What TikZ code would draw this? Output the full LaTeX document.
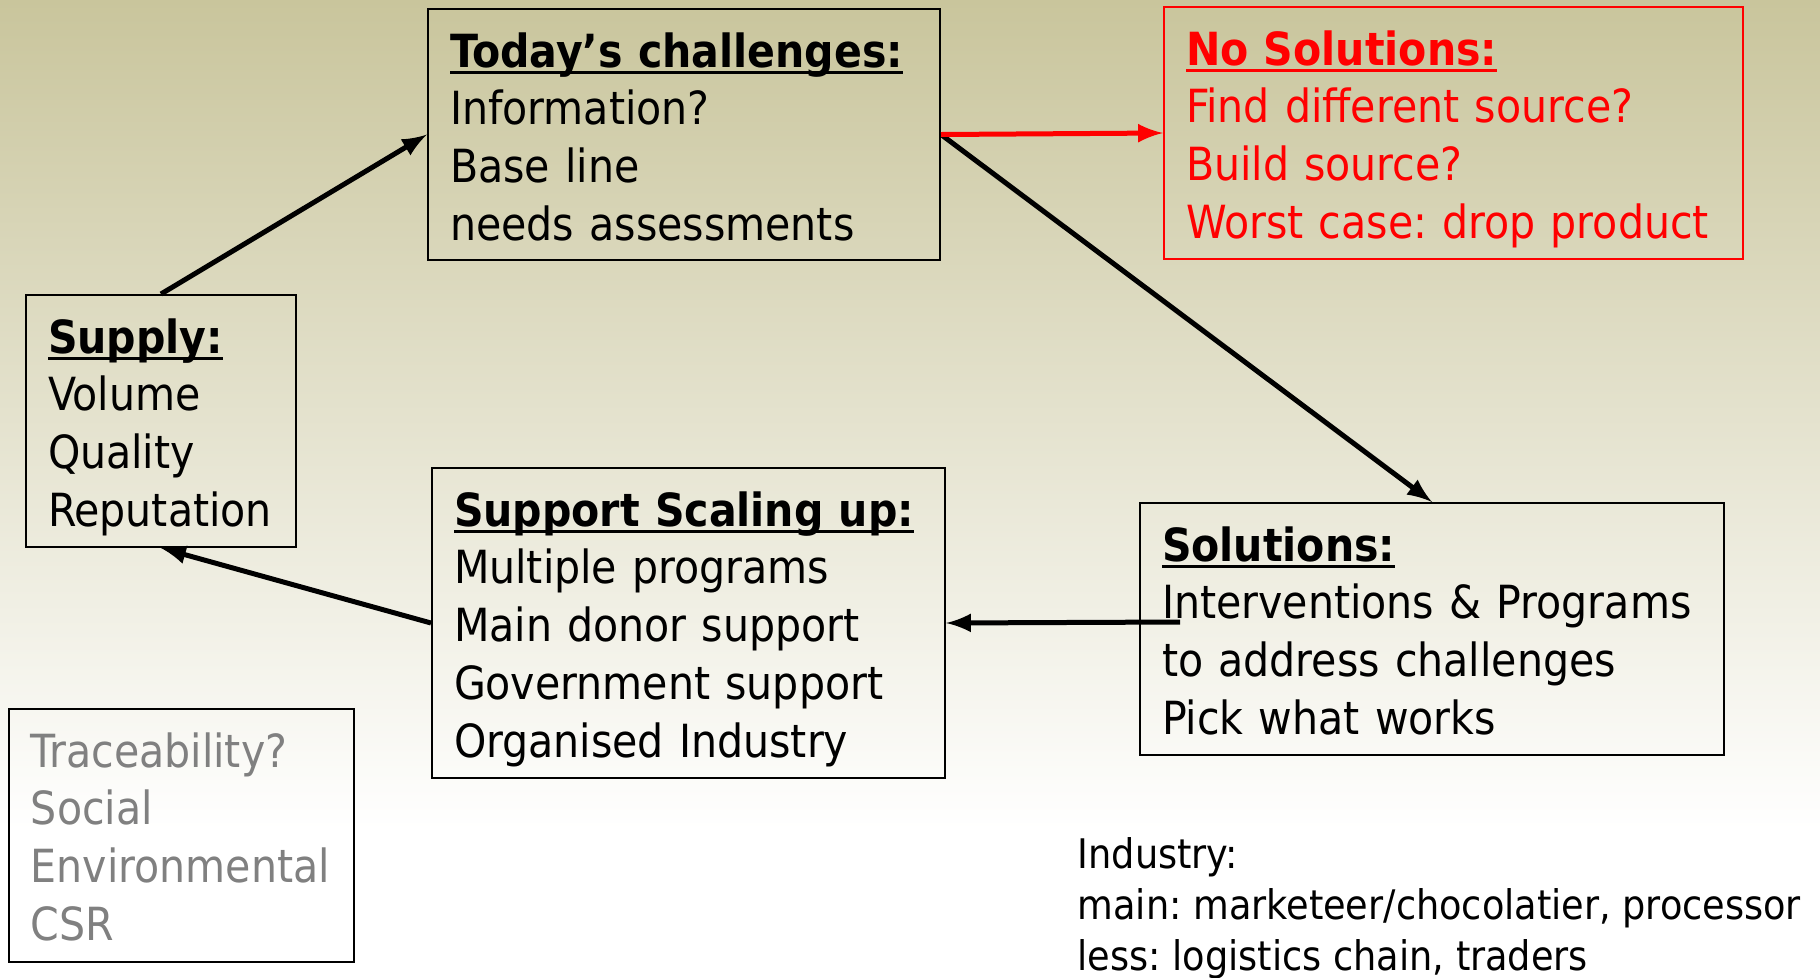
\documentclass[tikz,border=0pt]{standalone}
\usepackage{fontspec}
\setmainfont{DejaVu Sans Condensed}
\frenchspacing

\definecolor{bgtop}{RGB}{201,197,156}
\newcommand{\boxfont}{\fontsize{13pt}{16.45pt}\selectfont}
\newcommand{\heading}[1]{\sbox0{\bfseries #1}\usebox0\llap{\rule[-0.7mm]{\wd0}{0.35mm}}}

\begin{document}
\begin{tikzpicture}[>=latex, x=0.1mm, y=-0.1mm,
  box/.style={draw, line width=0.2mm, anchor=north west, align=left,
    inner xsep=2.2mm, inner ysep=2.2mm, text height=3.6mm, text depth=17.2mm,
    font=\boxfont},
  conn/.style={->, line width=0.5mm}]

% background
\shade[top color=bgtop, bottom color=white] (0,0) rectangle (1820,830);
\fill[white] (0,830) rectangle (1820,977);
\useasboundingbox (0,0) rectangle (1820,977);

% boxes
\node[box, text width=46.8mm, text depth=17.1mm] (today) at (427,8)
  {\heading{Today’s challenges:}\\Information?\\Base line\\needs assessments};
\node[box, draw=red, text=red, text width=53.5mm] (nosol) at (1163,6)
  {\heading{No Solutions:}\\Find different source?\\Build source?\\Worst case: drop product};
\node[box, text width=22.6mm] (supply) at (25,294)
  {\heading{Supply:}\\Volume\\Quality\\Reputation};
\node[box, text width=46.9mm, text depth=23mm] (support) at (431,467)
  {\heading{Support Scaling up:}\\Multiple programs\\Main donor support\\Government support\\Organised Industry};
\node[box, text width=54mm] (solutions) at (1139,502)
  {\heading{Solutions:}\\Interventions \& Programs\\to address challenges\\Pick what works};
\node[box, text=black!50, text width=30.1mm, text depth=17.3mm] (trace) at (8,708)
  {Traceability?\\Social\\Environmental\\CSR};

% note
\node[anchor=north west, inner sep=0pt, align=left,
  font=\fontsize{11.6pt}{14.5pt}\selectfont] (industry) at (1077,837)
  {Industry:\\main: marketeer/chocolatier, processor\\less: logistics chain, traders};

% arrows
\foreach \from/\to in {supply.north/today.west, today.east/solutions.north, support.west/supply.south} {
  \draw[conn] (\from) -- (\to);
}
\draw[conn, red] (today.east) -- (nosol.west);
\coordinate (solstart) at (1180,622);
\draw[conn] (solstart) -- (support.east);

\end{tikzpicture}
\end{document}
